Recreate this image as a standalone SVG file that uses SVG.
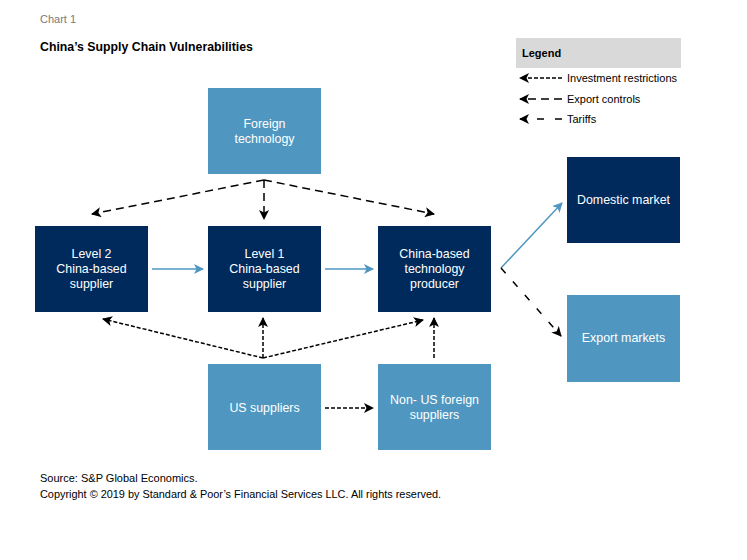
<svg xmlns="http://www.w3.org/2000/svg" width="747" height="560" viewBox="0 0 747 560">
<defs>
<marker id="ah" viewBox="0 0 10 10" refX="9" refY="5" markerWidth="10" markerHeight="10" markerUnits="userSpaceOnUse" orient="auto">
<path d="M0,0 L10,5 L0,10 L2.5,5 Z" fill="#000"/>
</marker>
<marker id="ahb" viewBox="0 0 10 10" refX="9" refY="5" markerWidth="10" markerHeight="10" markerUnits="userSpaceOnUse" orient="auto">
<path d="M0,0 L10,5 L0,10 L2.5,5 Z" fill="#4F97C0"/>
</marker>
<style>
text{font-family:"Liberation Sans",Arial,sans-serif}
.dark{fill:#002A5C}
.light{fill:#4F97C0}
.lbl{fill:#fff;font-size:12.4px;text-anchor:middle}
.inv{stroke:#000;stroke-width:1.5;fill:none;stroke-dasharray:4 2;marker-end:url(#ah)}
.exp{stroke:#000;stroke-width:1.5;fill:none;stroke-dasharray:8 5;marker-end:url(#ah)}
.tar{stroke:#000;stroke-width:1.5;fill:none;stroke-dasharray:7 11;marker-end:url(#ah)}
.flow{stroke:#4F97C0;stroke-width:1.5;fill:none;marker-end:url(#ahb)}
.leg{font-size:11px;fill:#000}
</style>
</defs>
<rect width="747" height="560" fill="#fff"/>
<text x="40" y="23" font-size="11" fill="#7a7a7a">Chart 1</text>
<text x="40" y="51" font-size="12.3" font-weight="bold" fill="#000">China’s Supply Chain Vulnerabilities</text>

<g id="legend">
<rect x="516" y="38" width="165" height="30" fill="#D9D9D9"/>
<text x="522" y="57" font-size="11" font-weight="bold">Legend</text>
<line x1="562" y1="78" x2="520" y2="78" class="inv"/>
<text x="567" y="82" class="leg">Investment restrictions</text>
<line x1="562" y1="99" x2="520" y2="99" class="exp"/>
<text x="567" y="103" class="leg">Export controls</text>
<line x1="562" y1="119" x2="520" y2="119" class="tar"/>
<text x="567" y="123" class="leg">Tariffs</text>
</g>

<g id="foreign-technology">
<rect x="208" y="88" width="113" height="86" class="light"/>
<text class="lbl" x="264.5" y="128">Foreign</text>
<text class="lbl" x="264.5" y="143">technology</text>
</g>
<g id="level2">
<rect x="35" y="226" width="113" height="86" class="dark"/>
<text class="lbl" x="91.5" y="258">Level 2</text>
<text class="lbl" x="91.5" y="273">China-based</text>
<text class="lbl" x="91.5" y="288">supplier</text>
</g>
<g id="level1">
<rect x="208" y="226" width="113" height="86" class="dark"/>
<text class="lbl" x="264.5" y="258">Level 1</text>
<text class="lbl" x="264.5" y="273">China-based</text>
<text class="lbl" x="264.5" y="288">supplier</text>
</g>
<g id="producer">
<rect x="378" y="226" width="113" height="86" class="dark"/>
<text class="lbl" x="434.5" y="258">China-based</text>
<text class="lbl" x="434.5" y="273">technology</text>
<text class="lbl" x="434.5" y="288">producer</text>
</g>
<g id="us-suppliers">
<rect x="208" y="364" width="113" height="86" class="light"/>
<text class="lbl" x="264.5" y="412">US suppliers</text>
</g>
<g id="non-us">
<rect x="378" y="364" width="113" height="86" class="light"/>
<text class="lbl" x="434.5" y="404">Non- US foreign</text>
<text class="lbl" x="434.5" y="419">suppliers</text>
</g>
<g id="domestic">
<rect x="567" y="157" width="113" height="86" class="dark"/>
<text class="lbl" x="623.5" y="204">Domestic market</text>
</g>
<g id="export">
<rect x="567" y="295" width="113" height="87" class="light"/>
<text class="lbl" x="623.5" y="342">Export markets</text>
</g>

<g id="connectors">
<line x1="152" y1="269" x2="203" y2="269" class="flow"/>
<line x1="325" y1="269" x2="373" y2="269" class="flow"/>
<line x1="264" y1="180" x2="92" y2="214" class="exp"/>
<line x1="264" y1="180" x2="264" y2="219" class="exp"/>
<line x1="264" y1="180" x2="434" y2="214" class="exp"/>
<line x1="263" y1="358" x2="103" y2="319" class="inv"/>
<line x1="263" y1="358" x2="263" y2="318" class="inv"/>
<line x1="263" y1="358" x2="423" y2="320" class="inv"/>
<line x1="434" y1="358" x2="434" y2="318" class="inv"/>
<line x1="325" y1="408" x2="373" y2="408" class="inv"/>
<line x1="501" y1="268" x2="562" y2="203" class="flow"/>
<line x1="501" y1="268" x2="561" y2="336" class="tar"/>
</g>

<text x="40" y="482" font-size="11" fill="#000">Source: S&amp;P Global Economics.</text>
<text x="40" y="498" font-size="10.9" fill="#000">Copyright © 2019 by Standard &amp; Poor’s Financial Services LLC. All rights reserved.</text>
</svg>
